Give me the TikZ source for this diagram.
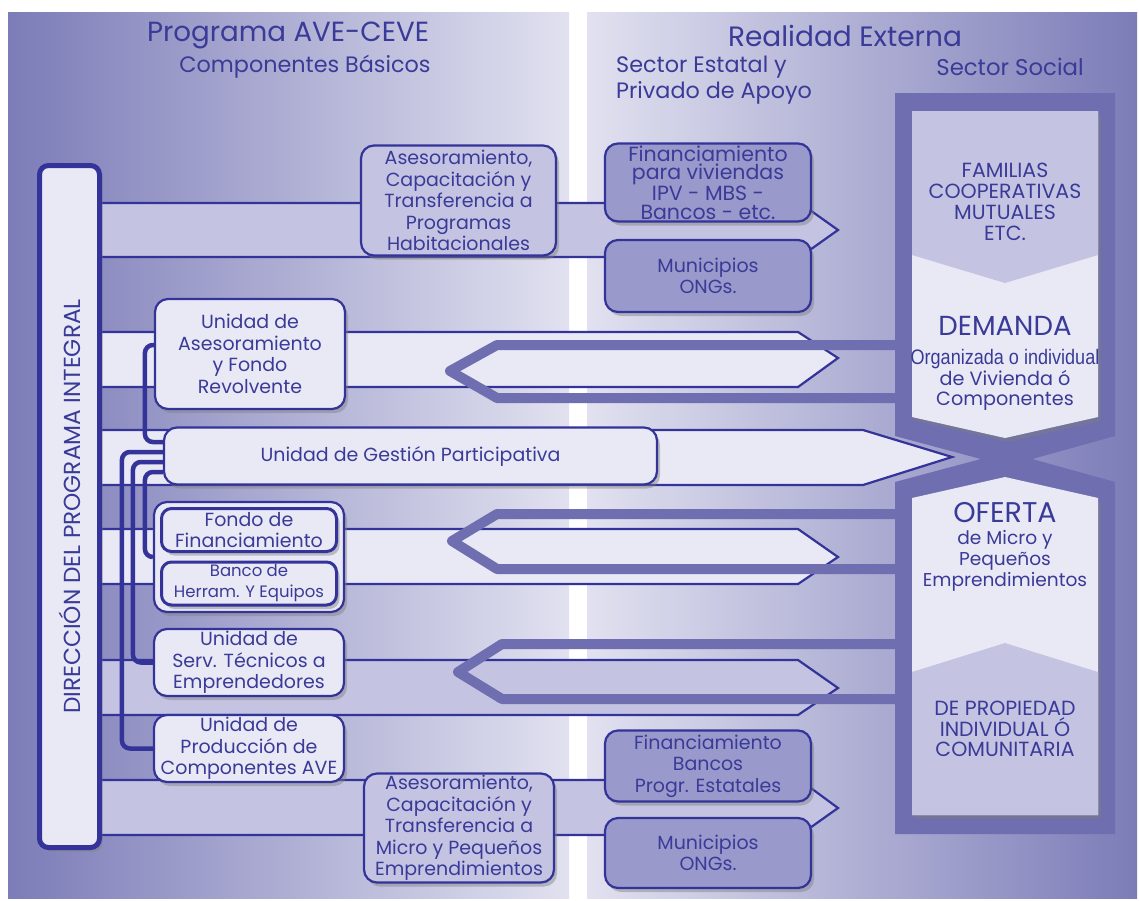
\documentclass[tikz,border=0pt]{standalone}
\usepackage{fontspec}
\usepackage{graphicx}
\setmainfont{Poppins}
\newfontfamily\estrecha{Liberation Sans}
\usetikzlibrary{shadows}
\definecolor{azul}{RGB}{51,51,153}
\definecolor{azultexto}{RGB}{58,58,152}
\definecolor{marcoazul}{RGB}{110,110,176}
\definecolor{fondooscuro}{RGB}{124,124,184}
\definecolor{fondoclaro}{RGB}{225,225,240}
\definecolor{claro}{RGB}{233,233,245}
\definecolor{medio}{RGB}{196,196,226}
\definecolor{oscuro}{RGB}{153,153,204}

\begin{document}
\begin{tikzpicture}[x=1pt,y=-1pt]
            % Estilos
            \tikzstyle{caja}=[draw=azul,line width=2.2pt,rounded corners=13pt,align=center,text=azultexto,inner sep=0pt,font=\fontsize{19}{21.5}\selectfont,drop shadow={shadow xshift=3pt,shadow yshift=-4pt,opacity=0.45}]
            \tikzstyle{cajaclara}=[caja,fill=claro]
            \tikzstyle{cajamedia}=[caja,fill=medio]
            \tikzstyle{cajaoscura}=[caja,fill=oscuro]
            \tikzstyle{barra}=[draw=azul,line width=5pt,fill=claro,rounded corners=9pt,text=azultexto,inner sep=0pt,font=\fontsize{23.2}{26}\selectfont,drop shadow={shadow xshift=3pt,shadow yshift=-4pt,opacity=0.45}]
            \tikzstyle{banda}=[draw=azul,line width=2.2pt]
            \tikzstyle{flecha}=[draw=marcoazul,line width=10pt,line join=round]
            \tikzstyle{marco}=[fill=marcoazul]
            \tikzstyle{corchete}=[draw=azul,line width=4.5pt,rounded corners=8pt]
            \tikzstyle{titulo}=[text=azultexto,inner sep=0pt,align=center]
            % Dimensiones
            \def\AnchoCaja{190}
            \def\AnchoExterna{206}
            % Fondo
            \useasboundingbox (0,0) rectangle (1139,900);
            \fill[white] (0,0) rectangle (1139,900);
            \shade[left color=fondooscuro,right color=fondoclaro] (8,12) rectangle (569,898);
            \shade[left color=fondoclaro,right color=fondooscuro] (587,12) rectangle (1137,898);
            % Titulos
            \node[titulo,font=\fontsize{27.7}{30}\selectfont] (programa) at (288,35) {Programa AVE-CEVE};
            \node[titulo,font=\fontsize{22.3}{25}\selectfont] (componentes) at (305,67) {Componentes Básicos};
            \node[titulo,font=\fontsize{28}{30}\selectfont] (realidad) at (845,36) {Realidad Externa};
            \node[titulo,font=\fontsize{22.3}{26}\selectfont,align=left,anchor=west] (estatal) at (616,80) {Sector Estatal y\\Privado de Apoyo};
            \node[titulo,font=\fontsize{22.8}{25}\selectfont] (social) at (1010,67) {Sector Social};
            % Bandas
            \filldraw[banda,fill=medio] (100,203) -- (800,203) -- (838,230) -- (800,257) -- (100,257);
            \filldraw[banda,fill=claro] (100,332) -- (798,332) -- (838,358) -- (798,387) -- (100,387);
            \filldraw[banda,fill=claro] (100,529) -- (798,529) -- (838,557) -- (798,584) -- (100,584);
            \filldraw[banda,fill=medio] (100,660) -- (798,660) -- (838,688) -- (798,715) -- (100,715);
            \filldraw[banda,fill=medio] (100,780) -- (800,780) -- (838,808) -- (800,835) -- (100,835);
            % Flechas de retorno
            \draw[flecha] (895,345) -- (497,345) -- (450,371) -- (497,398) -- (895,398);
            \draw[flecha] (895,514) -- (497,514) -- (452,541) -- (497,569) -- (895,569);
            \draw[flecha] (895,644) -- (502,644) -- (458,672) -- (502,699) -- (895,699);
            % Sector social
            \fill[marco] (895,93) -- (1115,93) -- (1115,436) -- (1007,466) -- (895,436) -- cycle;
            \fill[marco] (895,482) -- (1007,452) -- (1115,482) -- (1115,834) -- (895,834) -- cycle;
            \fill[claro,drop shadow={shadow xshift=3pt,shadow yshift=-4pt,opacity=0.4}] (912,111) -- (1098,111) -- (1098,417) -- (1005,438) -- (912,417) -- cycle;
            \fill[medio] (912,111) -- (1098,111) -- (1098,255) -- (1005,283) -- (912,255) -- cycle;
            \fill[claro,drop shadow={shadow xshift=3pt,shadow yshift=-4pt,opacity=0.4}] (912,498) -- (1005,477) -- (1098,498) -- (1098,815) -- (912,815) -- cycle;
            \fill[medio] (912,672) -- (1005,643) -- (1098,672) -- (1098,815) -- (912,815) -- cycle;
            \node[titulo,font=\fontsize{20.5}{21}\selectfont] (familias) at (1005,202) {FAMILIAS\\COOPERATIVAS\\MUTUALES\\ETC.};
            \node[titulo,font=\fontsize{27.5}{30}\selectfont] (demanda) at (1005,326) {DEMANDA};
            \node[titulo] (organizada) at (1005,359) {\scalebox{0.86}[1]{\estrecha\fontsize{21}{24}\selectfont Organizada o individual}};
            \node[titulo,font=\fontsize{19.2}{20}\selectfont] (vivienda) at (1005,390) {de Vivienda ó\\Componentes};
            \node[titulo,font=\fontsize{28.5}{30}\selectfont] (oferta) at (1005,513) {OFERTA};
            \node[titulo,font=\fontsize{18.6}{21}\selectfont] (micro) at (1005,561) {de Micro y\\Pequeños\\Emprendimientos};
            \node[titulo,font=\fontsize{20.5}{20.5}\selectfont] (propiedad) at (1005,729) {DE PROPIEDAD\\INDIVIDUAL Ó\\COMUNITARIA};
            % Banda de gestion
            \filldraw[banda,fill=claro] (100,430) -- (863,430) -- (952,457) -- (863,485) -- (100,485);
            % Nodos
            \node[barra,minimum width=60pt,minimum height=682pt] (direccion) at (69.5,506.5) {\rotatebox{90}{DIRECCIÓN DEL PROGRAMA INTEGRAL}};
            \node[cajamedia,minimum width=195pt,minimum height=110pt] (asesoramientoa) at (458.5,200.5) {Asesoramiento,\\Capacitación y\\Transferencia a\\Programas\\Habitacionales};
            \node[cajaoscura,minimum width=\AnchoExterna pt,minimum height=78pt,font=\fontsize{20.5}{18.6}\selectfont] (finviviendas) at (708,182.5) {Financiamiento\\para viviendas\\IPV - MBS -\\Bancos - etc.};
            \node[cajaoscura,minimum width=\AnchoExterna pt,minimum height=72pt] (municipiosa) at (708,276) {Municipios\\ONGs.};
            \node[cajaclara,minimum width=\AnchoCaja pt,minimum height=110pt] (uase) at (250,354) {Unidad de\\Asesoramiento\\y Fondo\\Revolvente};
            \node[cajaclara,minimum width=493pt,minimum height=57pt] (gestion) at (410.5,456) {Unidad de Gestión Participativa};
            \node[cajaclara,minimum width=\AnchoCaja pt,minimum height=110pt] (fondo) at (249,557) {};
            \node[cajaclara,line width=3pt,rounded corners=10pt,minimum width=175pt,minimum height=43pt,drop shadow={opacity=0}] (fondofin) at (249,530) {Fondo de\\Financiamiento};
            \node[cajaclara,line width=3pt,rounded corners=10pt,minimum width=175pt,minimum height=43pt,drop shadow={opacity=0},font=\fontsize{16.5}{21}\selectfont] (banco) at (249,583.5) {Banco de\\Herram. Y Equipos};
            \node[cajaclara,minimum width=\AnchoCaja pt,minimum height=67pt] (serv) at (249,662.5) {Unidad de\\Serv. Técnicos a\\Emprendedores};
            \node[cajaclara,minimum width=\AnchoCaja pt,minimum height=67pt] (prod) at (249,748.5) {Unidad de\\Producción de\\Componentes AVE};
            \node[cajamedia,minimum width=\AnchoCaja pt,minimum height=109pt] (asesoramientob) at (459,828) {Asesoramiento,\\Capacitación y\\Transferencia a\\Micro y Pequeños\\Emprendimientos};
            \node[cajaoscura,minimum width=\AnchoExterna pt,minimum height=71pt] (finbancos) at (708,766) {Financiamiento\\Bancos\\Progr. Estatales};
            \node[cajaoscura,minimum width=\AnchoExterna pt,minimum height=70pt] (municipiosb) at (708,853) {Municipios\\ONGs.};
            % Conectores
            \draw[corchete] ([yshift=14pt]gestion.west) -| ([xshift=-9pt,yshift=9pt]uase.west) -- ([yshift=9pt]uase.west);
            \draw[corchete] ([yshift=4pt]gestion.west) -| ([xshift=-31pt]prod.west) -- (prod.west);
            \draw[corchete] ([yshift=-6pt]gestion.west) -| ([xshift=-20pt]serv.west) -- (serv.west);
            \draw[corchete] ([yshift=-16pt]gestion.west) -| ([xshift=-8pt]fondo.west) -- (fondo.west);
\end{tikzpicture}
\end{document}
